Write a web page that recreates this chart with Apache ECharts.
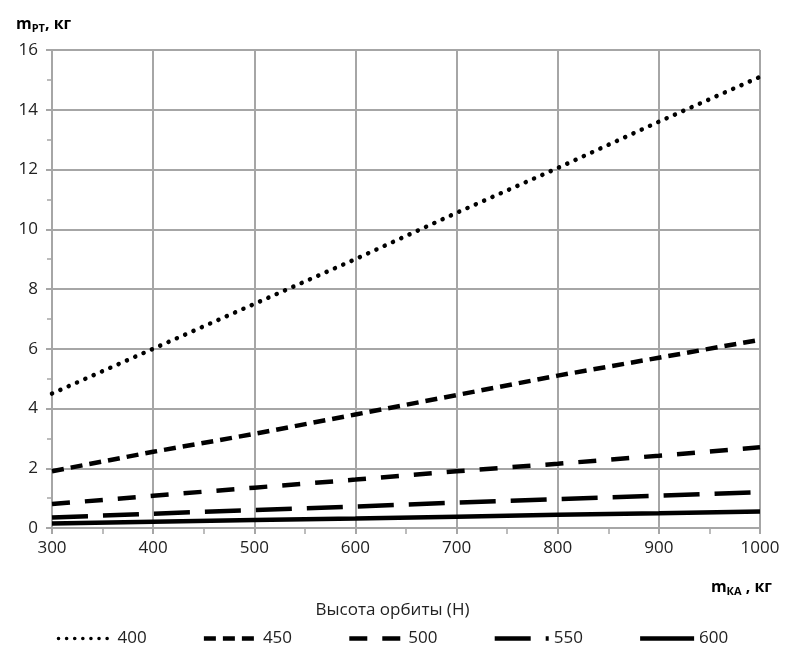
<!DOCTYPE html>
<html>
<head>
<meta charset="utf-8">
<script src="https://cdn.jsdelivr.net/npm/echarts@6/dist/echarts.min.js"></script>
<style>
    html, body { margin: 0; padding: 0; background: #fff; }
    #my_chart { width: 785px; height: 655px; }
</style>
</head>
<body>
<div id="my_chart"></div>
<script>
// масса КА, кг
var mass_ka = [300, 400, 500, 600, 700, 800, 900, 1000];
// высота орбиты (Н)
var heights = ['400', '450', '500', '550', '600'];
// масса рабочего тела, кг
var m_400 = [4.5, 6.0, 7.5, 9.0, 10.55, 12.05, 13.6, 15.1];
var m_450 = [1.9, 2.55, 3.15, 3.8, 4.45, 5.1, 5.7, 6.3];
var m_500 = [0.8, 1.08, 1.35, 1.62, 1.9, 2.15, 2.42, 2.7];
var m_550 = [0.35, 0.48, 0.6, 0.72, 0.85, 0.97, 1.08, 1.2];
var m_600 = [0.15, 0.21, 0.27, 0.32, 0.38, 0.44, 0.49, 0.55];

var font = '"Open Sans", "Noto Sans", sans-serif';

function pairs(vals) {
    return mass_ka.map(function (x, i) { return [x, vals[i]]; });
}

var styles = [
    {width: 4.5, type: [0.1, 9], cap: 'round'},
    {width: 4.5, type: [12, 7], cap: 'butt'},
    {width: 4.5, type: [18, 15], cap: 'butt'},
    {width: 4.5, type: [36, 15], cap: 'butt'},
    {width: 4.5, type: 'solid', cap: 'butt'}
];
var values = [m_400, m_450, m_500, m_550, m_600];

var series = heights.map(function (h, i) {
    return {
        type: 'line',
        name: h,
        data: pairs(values[i]),
        showSymbol: false,
        symbol: 'none',
        lineStyle: {
            color: '#000',
            width: styles[i].width,
            type: styles[i].type,
            cap: styles[i].cap
        },
        itemStyle: {color: '#000'}
    };
});

// иконки легенды без маркера
var legend_data = heights.map(function (h, i) {
    return {
        name: h,
        itemStyle: {opacity: 0},
        lineStyle: {
            color: '#000',
            width: i === 0 ? 3.5 : styles[i].width,
            type: i === 0 ? [0.1, 8] : styles[i].type,
            cap: styles[i].cap
        }
    };
});

var gridColor = '#a6a6a6';

var option = {
    animation: false,
    backgroundColor: '#fff',
    title: [
        {
            text: '{m|m}{s|РТ}{m|, кг}',
            left: 11,
            top: 10,
            textStyle: {
                rich: {
                    m: {fontFamily: font, fontSize: 16, fontWeight: 'bold', color: '#000'},
                    s: {fontFamily: font, fontSize: 11, fontWeight: 'bold', color: '#000', padding: [8, 0, 0, 0]}
                }
            }
        },
        {
            text: '{m|m}{s|КА}{m| , кг}',
            right: 8,
            top: 573,
            textStyle: {
                rich: {
                    m: {fontFamily: font, fontSize: 16, fontWeight: 'bold', color: '#000'},
                    s: {fontFamily: font, fontSize: 11, fontWeight: 'bold', color: '#000', padding: [8, 0, 0, 0]}
                }
            }
        },
        {
            text: 'Высота орбиты (Н)',
            left: 'center',
            top: 597,
            textStyle: {fontFamily: font, fontSize: 17, fontWeight: 'normal', color: '#222'}
        }
    ],
    grid: {
        left: 52,
        right: 25,
        top: 50,
        bottom: 127,
        containLabel: false
    },
    legend: {
        data: legend_data,
        bottom: 3,
        left: 'center',
        itemWidth: 54,
        itemHeight: 12,
        itemGap: 55,
        textStyle: {fontFamily: font, fontSize: 17, color: '#222'}
    },
    xAxis: {
        type: 'value',
        min: 300,
        max: 1000,
        interval: 100,
        axisLine: {show: true, onZero: false, lineStyle: {color: gridColor, width: 2}},
        axisTick: {show: true, length: 6, lineStyle: {color: gridColor, width: 2}},
        minorTick: {show: true, splitNumber: 2, length: 6, lineStyle: {color: gridColor, width: 1.5}},
        axisLabel: {
            fontFamily: font, fontSize: 17, color: '#222', margin: 12,
            formatter: function (v) { return String(v); }
        },
        splitLine: {show: true, lineStyle: {color: gridColor, width: 2}}
    },
    yAxis: {
        type: 'value',
        min: 0,
        max: 16,
        interval: 2,
        axisLine: {show: true, lineStyle: {color: gridColor, width: 2}},
        axisTick: {show: true, length: 6, lineStyle: {color: gridColor, width: 2}},
        minorTick: {show: true, splitNumber: 2, length: 5, lineStyle: {color: gridColor, width: 1.5}},
        axisLabel: {fontFamily: font, fontSize: 17, color: '#222', margin: 14},
        splitLine: {show: true, lineStyle: {color: gridColor, width: 2}}
    },
    series: series
};

var myChart = echarts.init(document.getElementById('my_chart'));
myChart.setOption(option);
</script>
</body>
</html>
